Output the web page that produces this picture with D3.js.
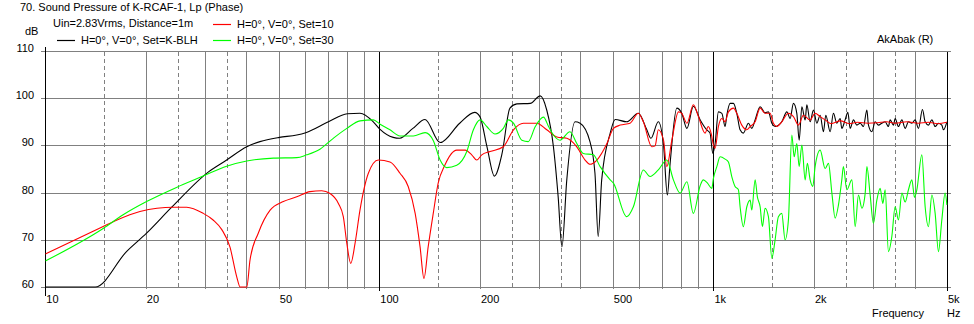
<!DOCTYPE html>
<html><head><meta charset="utf-8">
<script src="https://cdn.jsdelivr.net/npm/d3@7"></script>
<style>
body{margin:0;background:#fff}
svg{display:block}
text{font-family:"Liberation Sans",Arial,sans-serif;font-size:11px;fill:#000}
</style>
</head><body><svg id="c" width="974" height="324"></svg>
<script>
// ---------- data ----------
const blackFreq = [10,14.1,17.5,20.1,23.9,30.8,34.9,40.1,43.9,50.2,56.6,60.2,70.4,80.2,87.5,95.9,100.5,110,115,126,137,152,174,193,200,210,221,233,246,258,283,303,317,332,343,352,364,385,399,427,442,452,463,491,508,550,596,632,650,684,709,728,742,777,804,833,871,913,955,977,996,1012,1035,1060,1084,1097,1122,1148,1175,1202,1229,1273,1303,1333,1380,1428,1461,1496,1530,1602,1659,1697,1736,1777,1806,1840,1882,1904,1948,1993,2040,2087,2135,2170,2236,2287,2342,2395,2423,2479,2526,2567,2626,2688,2750,2813,2880,2912,2981,3049,3120,3193,3267,3342,3381,3459,3500,3580,3666,3750,3836,3927,4017,4110,4225,4304,4403,4508,4611,4717,4828,4882,5000];
const blackDb = [60,60,67.5,71.4,76.9,84.4,86.9,89.7,90.8,91.7,92.2,92.7,95.0,96.7,96.8,95.0,93.4,91.7,91.5,93.6,95.5,90.6,94.7,97.0,96.1,89.7,83.5,88.3,97.9,98.8,98.9,100.5,97.5,89.7,79.1,68.5,82.7,95.0,94.7,90.8,84.1,70.7,82.7,92.6,95.5,95.0,96.8,93.3,91.5,95.0,90.1,79.5,86.2,97.9,96.8,93.6,98.3,95.4,93.3,92.6,88.3,90.4,97.1,96.8,94.0,96.4,98.9,98.9,96.8,93.3,92.6,94.7,93.6,95.4,98.2,96.9,97.1,94.7,94.0,95.0,97.1,95.7,98.9,96.8,91.1,98.2,95.4,98.6,95.0,97.5,94.7,96.4,92.9,96.4,92.9,96.8,94.7,95.7,93.6,95.4,97.0,93.6,95.4,94.3,94.7,94.0,97.5,94.3,92.9,95.0,94.3,94.7,95.0,94.0,95.4,94.3,95.7,94.0,95.4,93.6,95.0,94.7,95.4,93.6,97.6,95.0,94.3,95.4,94.0,94.7,94.3,93.3,95.0];

const redFreq = [10,14.9,16.4,19.2,21.6,24.2,26.5,29.7,31.8,33.8,35.7,37.4,38.3,40.1,41,43.4,47.1,51.6,56.6,62,67.2,71.2,75.4,78,79.9,82.1,84.6,87.5,92.7,99.3,107.6,115.3,122,128,132.4,136,140,145,150,157,170.5,180.6,189,195.7,202.6,214.5,235,252,270,296,317,340,364,390,413,427,448,480,502,526,563,596,617,654,669,684,709,725,751,786,804,833,871,902,944,965,985,1000,1012,1035,1060,1084,1109,1148,1175,1216,1259,1288,1333,1380,1428,1478,1512,1548,1602,1677,1736,1797,1860,1948,2016,2087,2160,2250,2400,2550,2700,2900,3100,3300,3500,3800,4100,4400,4700,5000];
const redDb = [67.0,72.8,74.2,76.0,76.7,76.9,76.9,75.6,74.2,72.1,68.5,62.2,60,60,65.7,71.4,76.3,78.1,79.1,80.2,80.4,79.8,77.7,74.9,69.3,65.0,69.3,76.3,84.1,86.9,86.5,84.1,81.3,75.6,68.5,61.8,68.5,75.6,82.0,85.8,89.0,89.0,88.0,86.9,88.0,88.7,89.7,93.3,94.7,94.7,93.3,91.8,91.5,89.7,86.9,86.0,86.9,90.4,93.6,94.3,94.7,96.8,95.0,89.7,89.9,93.3,91.1,85.5,91.1,97.1,96.8,94.7,98.6,96.1,92.6,94.0,92.5,90.1,89.4,94.0,95.7,95.0,97.1,97.9,96.8,94.3,93.3,94.0,95.0,97.9,96.8,96.8,94.7,94.0,95.0,96.8,96.1,94.3,96.4,95.4,96.8,96.1,95.4,94.6,95.2,94.6,94.9,94.7,94.8,95.0,94.7,95.0,94.7,94.9,94.6,94.9];

const greenFreq = [10,14.9,17.1,20.1,24.7,29.7,34.9,40.1,48.2,56.6,60.6,66.4,72.8,79.9,87.5,95.9,100.5,107.6,115.3,126.4,137.1,145.1,152,159,170.5,182.7,191.2,200.2,209.7,222,235,243.4,252,267,279,293,310,321,332,347.5,372,390,408,437,458,491,502,550,576,617,646,684,725,759,795,833,871,913,933,960,989,1000,1024,1047,1084,1109,1135,1161,1188,1202,1229,1259,1288,1303,1333,1354,1380,1402,1428,1461,1496,1530,1565,1602,1639,1677,1717,1745,1777,1806,1840,1882,1911,1948,1984,2016,2087,2160,2210,2263,2314,2368,2423,2450,2508,2597,2657,2718,2783,2847,2880,2946,3013,3085,3156,3215,3267,3342,3421,3500,3581,3666,3750,3836,3927,4000,4064,4207,4304,4403,4508,4611,4717,4828,4939,5000];
const greenDb = [65.5,72.4,75.3,78.1,81.1,83.5,85.6,86.7,87.3,87.4,88.0,89.2,91.5,93.6,95.2,95.4,94.5,93.3,92.0,92.0,92.7,91.0,86.9,85.3,85.8,88.7,93.3,95.4,94.0,92.4,93.6,95.4,94.7,91.1,90.8,94.0,96.0,94.0,92.2,91.1,92.9,90.4,88.3,88.0,85.5,82.7,82.0,74.9,77.0,84.8,83.4,84.8,86.9,82.7,79.9,82.3,75.6,81.5,82.7,82.0,80.9,83.0,85.5,87.6,87.1,86.5,83.4,81.3,80.6,77.0,72.8,77.0,78.4,76.3,82.7,79.1,77.0,72.8,76.7,74.9,66.1,70.0,74.9,75.6,70.0,74.2,92.2,87.6,90.4,85.5,90.1,82.7,86.2,82.7,81.3,85.5,89.0,85.1,86.2,79.9,74.6,77.4,82.7,85.5,80.6,82.7,72.8,79.5,76.7,79.9,85.5,79.5,73.5,78.4,80.9,77.7,80.6,67.5,70.7,77.0,74.2,79.9,78.0,80.6,82.7,79.0,80.6,88.0,77.0,72.8,79.5,75.6,67.5,74.2,79.9,77.4];

const xTickVals = [10,20,50,100,200,500,1000,2000,5000];
const xTickLabels = ["10","20","50","100","200","500","1k","2k","5k"];
const yTickVals = [60,70,80,90,100,110];
const gridSolid = [20,30,40,50,60,70,80,90,200,300,400,500,600,700,800,900,2000,3000,4000];
const gridDashed = [15,25,35,150,250,350,1500,2500,3500];
const gridMajor = [10,100,1000,5000];

const titleText = "70. Sound Pressure of K-RCAF-1, Lp (Phase)";
const infoText = "Uin=2.83Vrms, Distance=1m";
const series = [
  {name:"H=0°, V=0°, Set=K-BLH", color:"#000000", f:blackFreq, v:blackDb, lx:57, ly:40},
  {name:"H=0°, V=0°, Set=10", color:"#ff0000", f:redFreq, v:redDb, lx:213, ly:24},
  {name:"H=0°, V=0°, Set=30", color:"#00ff00", f:greenFreq, v:greenDb, lx:213, ly:40}
];

// ---------- chart ----------
const svg = d3.select("#c");
const x = d3.scaleLog().domain([10,5000]).range([45.3,946.9]);
const y = d3.scaleLinear().domain([60,110]).range([287,51]);
const px = v => Math.round(x(v)) + 0.5;
const py = v => Math.round(y(v)) + 0.5;

const g = svg.append("g").attr("shape-rendering","crispEdges");
yTickVals.forEach(v => {
  g.append("line").attr("x1",41).attr("x2",px(5000)+3).attr("y1",py(v)).attr("y2",py(v))
   .attr("stroke","#808080");
});
gridSolid.forEach(v => g.append("line").attr("x1",px(v)).attr("x2",px(v)).attr("y1",py(110)).attr("y2",py(60)+1).attr("stroke","#808080"));
gridDashed.forEach(v => g.append("line").attr("x1",px(v)).attr("x2",px(v)).attr("y1",py(110)).attr("y2",py(60)).attr("stroke","#808080").attr("stroke-dasharray","4,3"));
gridMajor.forEach((v,i) => g.append("line").attr("x1",px(v)).attr("x2",px(v))
   .attr("y1", i===0 ? py(110)-5 : py(110)).attr("y2", i===0 ? py(60)+8 : py(60)+3).attr("stroke","#000"));

yTickVals.forEach(v => svg.append("text").attr("x",34).attr("y",y(v)+1).attr("text-anchor","end").text(v));
xTickVals.forEach((v,i) => svg.append("text").attr("x",x(v)+1).attr("y",303).text(xTickLabels[i]));

svg.append("text").attr("x",25).attr("y",35).text("dB");
svg.append("text").attr("x",872).attr("y",317).text("Frequency");
svg.append("text").attr("x",947).attr("y",317).text("Hz");
svg.append("text").attr("x",20).attr("y",11).text(titleText);
svg.append("text").attr("x",53).attr("y",27).text(infoText);
svg.append("text").attr("x",877).attr("y",43).text("AkAbak (R)");

svg.append("clipPath").attr("id","pc").append("rect")
  .attr("x",x(10)).attr("y",y(110)-1).attr("width",x(5000)-x(10)+1).attr("height",y(60)-y(110)+2);
const clamp = v => Math.max(60, Math.min(110, v));
const line = d3.line().x(d => x(d[0])).y(d => y(clamp(d[1]))).curve(d3.curveMonotoneX);
series.forEach(s => {
  const pts = s.f.map((f,i) => [f, s.v[i]]);
  svg.append("path").attr("d", line(pts)).attr("fill","none").attr("stroke", s.color)
    .attr("stroke-width",1.1).attr("clip-path","url(#pc)");
  svg.append("line").attr("x1",s.lx).attr("x2",s.lx+18).attr("y1",s.ly+0.5).attr("y2",s.ly+0.5)
    .attr("stroke",s.color).attr("stroke-width",1.2);
  svg.append("text").attr("x",s.lx+24).attr("y",s.ly+3.5).text(s.name);
});
</script>
</body></html>
